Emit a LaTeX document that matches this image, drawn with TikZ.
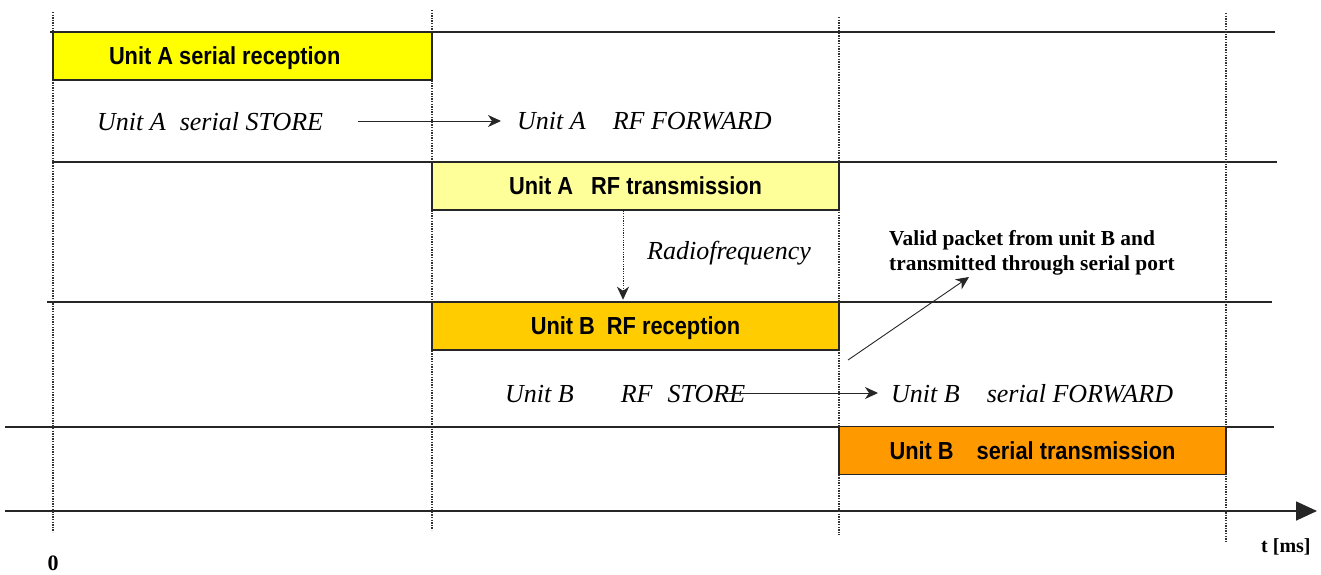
\documentclass[tikz,border=0pt]{standalone}
\usepackage{fontspec}
\setmainfont{Liberation Serif}
\newfontfamily\arialfam{Liberation Sans}
\usetikzlibrary{arrows.meta}
\newcommand\tallsf[1]{\scalebox{1}[1.13]{#1}}
\definecolor{cA}{HTML}{FFFF00}
\definecolor{cB}{HTML}{FFFF99}
\definecolor{cC}{HTML}{FFCC00}
\definecolor{cD}{HTML}{FF9900}
\begin{document}
\begin{tikzpicture}[x=1pt,y=-1pt,
  hline/.style={line width=1.6pt, black!85},
  vline/.style={line width=1.3pt, dash pattern=on 1.3pt off 1.3pt, black!80},
  box/.style={draw=black!85, line width=1.5pt, inner sep=0pt, minimum height=48pt,
    text height=17.6pt, text depth=0pt, font=\arialfam\bfseries\fontsize{21.8}{26}\selectfont},
  ital/.style={font=\itshape\fontsize{26}{30}\selectfont, inner sep=0pt, anchor=base west},
  boldtxt/.style={font=\bfseries\fontsize{21.4}{25}\selectfont, inner sep=0pt},
  tip/.style={-{Stealth[length=13pt,width=12pt,inset=4pt]}},
  thinarrow/.style={line width=0.9pt, black!85, tip},
  ]
\useasboundingbox (0,0) rectangle (1321,574);
% horizontal lines
\draw[hline] (50,32) -- (1275,32);
\draw[hline] (52,162) -- (1277,162);
\draw[hline] (47,302) -- (1272,302);
\draw[hline] (5,427) -- (1274,427);
\draw[hline, -{Triangle[length=21pt,width=19pt]}] (5,511) -- (1317,511);
% vertical dotted lines
\draw[vline] (53,12) -- (53,532);
\draw[vline] (432,10) -- (432,530);
\draw[vline] (839,17) -- (839,535);
\draw[vline] (1226,13) -- (1226,541);
% boxes
\node[box, fill=cA, minimum width=379pt] (boxA) at (242.5,56)
  {\makebox[379pt][l]{\hspace*{56pt}\tallsf{Unit A serial reception}}};
\node[box, fill=cB, minimum width=407pt] (boxB) at (635.5,186)
  {\tallsf{Unit A\hspace{18pt}RF transmission}};
\node[box, fill=cC, minimum width=407pt] (boxC) at (635.5,326)
  {\tallsf{Unit B\hspace{12pt}RF reception}};
\node[box, fill=cD, minimum width=387pt] (boxD) at (1032.5,450.5)
  {\tallsf{Unit B\hspace{23pt}serial transmission}};
% italic labels
\node[ital] (storeA) at (97,130) {Unit A\hspace{14pt}serial STORE};
\node[ital] (fwdA) at (517,129) {Unit A\hspace{27pt}RF FORWARD};
\node[ital] (radio) at (647,259) {Radiofrequency};
\node[ital] (storeB) at (505,402) {Unit B\hspace{47pt}RF\hspace{15pt}STORE};
\node[ital] (fwdB) at (891,402) {Unit B\hspace{27pt}serial FORWARD};
% bold labels
\node[boldtxt, anchor=base west, align=left] (valid) at (889,270)
  {Valid packet from unit B and\\transmitted through serial port};
\node[font=\bfseries\fontsize{22}{26}\selectfont, inner sep=0pt, anchor=base] (zero) at (53,570) {0};
\node[font=\bfseries\fontsize{20}{24}\selectfont, inner sep=0pt, anchor=base west] (tms) at (1261,552) {t [ms]};
% connectors
\coordinate (a1s) at (358,121);
\coordinate (a1e) at (501,121);
\draw[thinarrow] (a1s) -- (a1e);
\coordinate (a2s) at (720,393);
\coordinate (a2e) at (878,393);
\draw[thinarrow] (a2s) -- (a2e);
\coordinate (rfx) at (623,0);
\draw[line width=1pt, black!85, dash pattern=on 1.2pt off 1.2pt, tip]
  (boxB.south -| rfx) -- ([yshift=1.5pt]boxC.north -| rfx);
\coordinate (d1) at (848,360);
\coordinate (d2) at (969,277);
\draw[thinarrow] (d1) -- (d2);
\end{tikzpicture}
\end{document}
